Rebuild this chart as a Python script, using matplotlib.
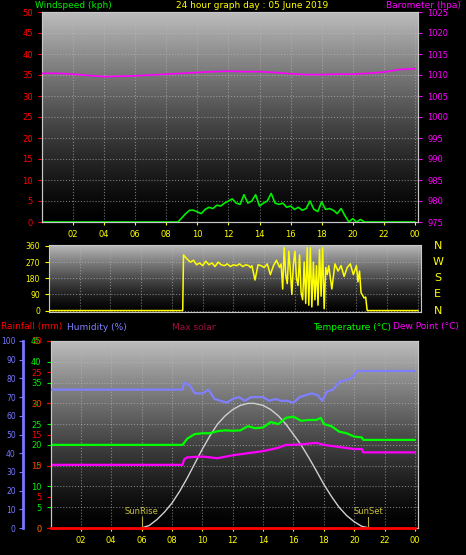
import numpy as np
import matplotlib
matplotlib.use("Agg")
import matplotlib.pyplot as plt

# ---------------- data ----------------
baro_t = [0,1,2,3,4,5,6,7,8,9,10,11,12,13,14,15,16,17,18,19,20,21,22,23,24]
baro_v = [1010.4,1010.4,1010.2,1009.9,1009.6,1009.7,1009.8,1010.0,1010.2,1010.4,1010.6,1010.8,
          1010.9,1010.8,1010.8,1010.6,1010.3,1010.1,1010.1,1010.2,1010.2,1010.4,1010.7,1011.3,1011.5]

wind_t = [0,8.75,9,9.25,9.5,9.75,10,10.25,10.5,10.75,11,11.25,11.5,11.75,12,12.25,12.5,12.75,13,13.25,
          13.5,13.75,14,14.25,14.5,14.75,15,15.25,15.5,15.75,16,16.25,16.5,16.75,17,17.25,17.5,17.75,
          18,18.25,18.5,18.75,19,19.25,19.5,19.75,20,20.25,20.5,20.75,24]
wind_v = [0,0,1,2,2.8,2.8,2.4,2,3,3.5,3.2,4,3.8,4.5,5,5.5,4.5,4.2,6.5,4.5,
          5,6.5,3.8,4.5,5,6.8,4.5,4.2,4.5,3.5,3.8,3,3.5,2.8,3.2,5,3,2.5,
          4.8,3,3.2,2.8,2,3.2,1.5,0,0.8,0,0.6,0,0]

dir_t = [0,8.7,8.75,9.0,9.2,9.4,9.6,9.8,10.0,10.2,10.4,10.6,10.8,11.0,11.2,11.4,11.6,11.8,12.0,12.2,
         12.4,12.6,12.8,13.0,13.1,13.2,13.4,13.6,13.8,14.0,14.2,14.3,14.4,14.6,14.8,15.0,15.1,15.2,15.3,
         15.4,15.5,15.6,15.7,15.8,15.9,16.0,16.1,16.2,16.3,16.4,16.5,16.6,16.7,16.8,16.9,17.0,17.1,17.2,
         17.3,17.4,17.5,17.6,17.7,17.8,17.9,18.0,18.1,18.2,18.4,18.6,18.8,19.0,19.2,19.4,19.6,19.8,20.0,
         20.1,20.2,20.3,20.5,20.6,20.7,24]
dir_v = [0,0,310,285,270,280,255,265,250,275,255,265,245,270,255,250,260,245,255,250,
         260,245,255,250,240,250,170,255,250,240,260,230,200,250,280,240,260,120,350,
         200,150,330,220,90,260,330,180,140,310,100,60,270,40,350,30,350,20,270,
         60,250,30,340,80,350,10,240,200,250,120,260,220,250,190,240,260,200,250,
         160,220,100,70,75,0,0]

hum_t = [0,8.7,8.8,9.2,9.5,10,10.4,10.8,11.2,11.6,12,12.4,12.8,13.2,13.6,14,14.4,14.8,15.2,15.6,16,
         16.4,16.8,17.2,17.6,17.9,18.2,18.6,19,19.4,19.8,20.2,24]
hum_v = [74,74,78,76,72,72,74,69,68,67,69,70,68,70,70,70,68,69,68,68,67,
         70,71,72,71,68,73,74,78,79,80,84,84]

temp_t = [0,8.7,9.0,9.5,10,10.5,11,11.5,12,12.5,13,13.5,14,14.5,15,15.5,16,16.5,17,17.5,17.8,18,
          18.5,19,19.5,20,20.5,20.6,24]
temp_v = [20,20,21.5,22.6,22.8,22.8,23.3,23.5,23.4,23.5,24.5,24,24.2,25.5,25,26.5,26.8,25.8,26,26,
          26.5,25,24.5,23.2,22.8,22,21.8,21.2,21.2]

dew_t = [0,8.7,8.8,9,10,11,12,13,14,15,15.5,16,17,17.5,18,19,20,20.5,20.6,24]
dew_v = [15.2,15.2,16.5,17,17.2,16.8,17.5,18,18.5,19.3,20,20,20.3,20.5,20,19.5,19,19,18.2,18.2]

solar_t = [6,6.5,7,7.5,8,8.5,9,9.5,10,10.5,11,11.5,12,12.5,13,13.4,14,14.5,15,15.5,16,16.5,17,17.5,
           18,18.5,19,19.5,20,20.5,21]
solar_v = [0,0.6,2,3.8,6,8.8,12,15.5,19,22.2,25,27,28.5,29.5,30,30,29.5,28.5,27,25,22.5,20,17,13.8,
           10.5,7.6,5,3,1.5,0.4,0]

rain_t = [0,24]
rain_v = [0,0]

hour_ticks = [2,4,6,8,10,12,14,16,18,20,22,24]
hour_labels = ["02","04","06","08","10","12","14","16","18","20","22","00"]

# ---------------- style helpers ----------------
W, H = 466, 555
fig = plt.figure(figsize=(W/100, H/100), dpi=100, facecolor="black")
FS = 6
YEL = "#ffff00"

def gradient(ax, top=0.74):
    g = top * np.linspace(0, 1, 256) ** 1.3
    ax.imshow(g.reshape(-1, 1), cmap="gray", vmin=0, vmax=1, aspect="auto", origin="lower",
              extent=[0, 1, 0, 1], transform=ax.transAxes, zorder=0)

def base(ax):
    ax.set_facecolor("black")
    for s in ax.spines.values():
        s.set_color("#c8c8c8")
    ax.grid(True, color="#bbbbbb", linestyle=":", linewidth=0.8, alpha=0.6, zorder=1)

# ---------------- top panel ----------------
ax1 = fig.add_axes([42/W, 1-222/H, 376/W, 210/H])
base(ax1)
gradient(ax1)
ax1.set_xlim(0, 24.2)
ax1.set_ylim(0, 50)
ax1.set_yticks(range(0, 51, 5))
ax1.set_xticks(hour_ticks)
ax1.set_xticklabels(hour_labels)
ax1.tick_params(axis="y", colors="red", labelsize=FS, length=3)
ax1.tick_params(axis="x", colors=YEL, labelsize=FS, length=2)
ax1.plot(wind_t, wind_v, color="#00ee00", lw=1.2, zorder=3)
ax1b = ax1.twinx()
ax1b.set_ylim(975, 1025)
ax1b.set_yticks(range(975, 1026, 5))
ax1b.tick_params(axis="y", colors="#ff00ff", labelsize=FS, length=3)
for s in ax1b.spines.values():
    s.set_color("#c8c8c8")
ax1b.plot(baro_t, baro_v, color="#ff00ff", lw=1.2, zorder=3)
fig.text(35/W, 1-6/H, "Windspeed (kph)", color="#00ee00", fontsize=6.5, va="center")
fig.text(252/W, 1-6/H, "24 hour graph day : 05 June 2019", color=YEL, fontsize=6.5, va="center", ha="center")
fig.text(461/W, 1-6/H, "Barometer (hpa)", color="#ff00ff", fontsize=6.5, va="center", ha="right")

# ---------------- middle panel ----------------
ax2 = fig.add_axes([49/W, 1-312/H, 372/W, 67/H])
base(ax2)
gradient(ax2)
ax2.set_xlim(0, 24.2)
ax2.set_ylim(-8, 365)
ax2.set_yticks([0, 90, 180, 270, 360])
ax2.set_xticks(hour_ticks)
ax2.tick_params(axis="x", labelbottom=False, length=0)
ax2.tick_params(axis="y", colors=YEL, labelsize=FS-0.5, length=3)
ax2.plot(dir_t, dir_v, color=YEL, lw=1.1, zorder=3)
for lab, v in zip(["N", "W", "S", "E", "N"], [360, 270, 180, 90, 0]):
    ax2.text(1.045, (v + 8) / 373, lab, transform=ax2.transAxes, color=YEL,
             fontsize=8, ha="center", va="center")

# ---------------- bottom panel ----------------
ax3 = fig.add_axes([50.5/W, 1-528/H, 367.5/W, 187/H])
base(ax3)
gradient(ax3)
ax3.set_xlim(0, 24.2)
ax3.set_ylim(0, 45)
ax3.set_xticks(hour_ticks)
ax3.set_xticklabels(hour_labels)
ax3.tick_params(axis="x", colors=YEL, labelsize=FS, length=2)
ax3.set_yticks(range(0, 46, 5))
ax3.tick_params(axis="y", colors="#00ee00", labelsize=FS, length=3,
                left=False, labelleft=False, right=True, labelright=True)

ax3.plot(solar_t, solar_v, color="#d0d0d0", lw=1.0, zorder=2)
ax3.plot(temp_t, temp_v, color="#00ff00", lw=1.6, zorder=3)
ax3.plot(dew_t, dew_v, color="#ff00ff", lw=1.6, zorder=3)
for t, lab in [(6.0, "SunRise"), (20.9, "SunSet")]:
    ax3.plot([t, t], [0, 2.7], color="#b8b040", lw=0.8, zorder=3)
    ax3.text(t, 2.9, lab, color="#c8c040", fontsize=FS, ha="center", va="bottom", zorder=4)

axr = ax3.twinx()
axr.set_ylim(0, 30)
axr.set_yticks(range(0, 31, 5))
axr.tick_params(axis="y", colors="red", labelsize=FS, length=3,
                left=True, labelleft=True, right=False, labelright=False)
for s in axr.spines.values():
    s.set_color("#c8c8c8")
axr.plot(rain_t, rain_v, color="red", lw=2.0, zorder=4, clip_on=False)

axh = ax3.twinx()
axh.spines["left"].set_position(("outward", 20))
axh.spines["left"].set_visible(True)
axh.spines["left"].set_color("#7777ff")
axh.spines["left"].set_linewidth(2)
for k in ["right", "top", "bottom"]:
    axh.spines[k].set_visible(False)
axh.set_ylim(0, 100)
axh.set_yticks(range(0, 101, 10))
axh.tick_params(axis="y", colors="#7777ff", labelsize=5.5, length=3, pad=2,
                left=True, labelleft=True, right=False, labelright=False)
axh.plot(hum_t, hum_v, color="#8080ff", lw=1.6, zorder=3)

fig.text(1/W, 1-327/H, "Rainfall (mm)", color="red", fontsize=6.5, va="center")
fig.text(67/W, 1-327/H, "Humidity (%)", color="#8080ff", fontsize=6.5, va="center")
fig.text(172/W, 1-327/H, "Max solar", color="#a01040", fontsize=6.5, va="center")
fig.text(313/W, 1-327/H, "Temperature (°C)", color="#00ff00", fontsize=6.5, va="center")
fig.text(393/W, 1-327/H, "Dew Point (°C)", color="#ff00ff", fontsize=6.5, va="center")

fig.savefig("out.png", dpi=100, facecolor="black")
